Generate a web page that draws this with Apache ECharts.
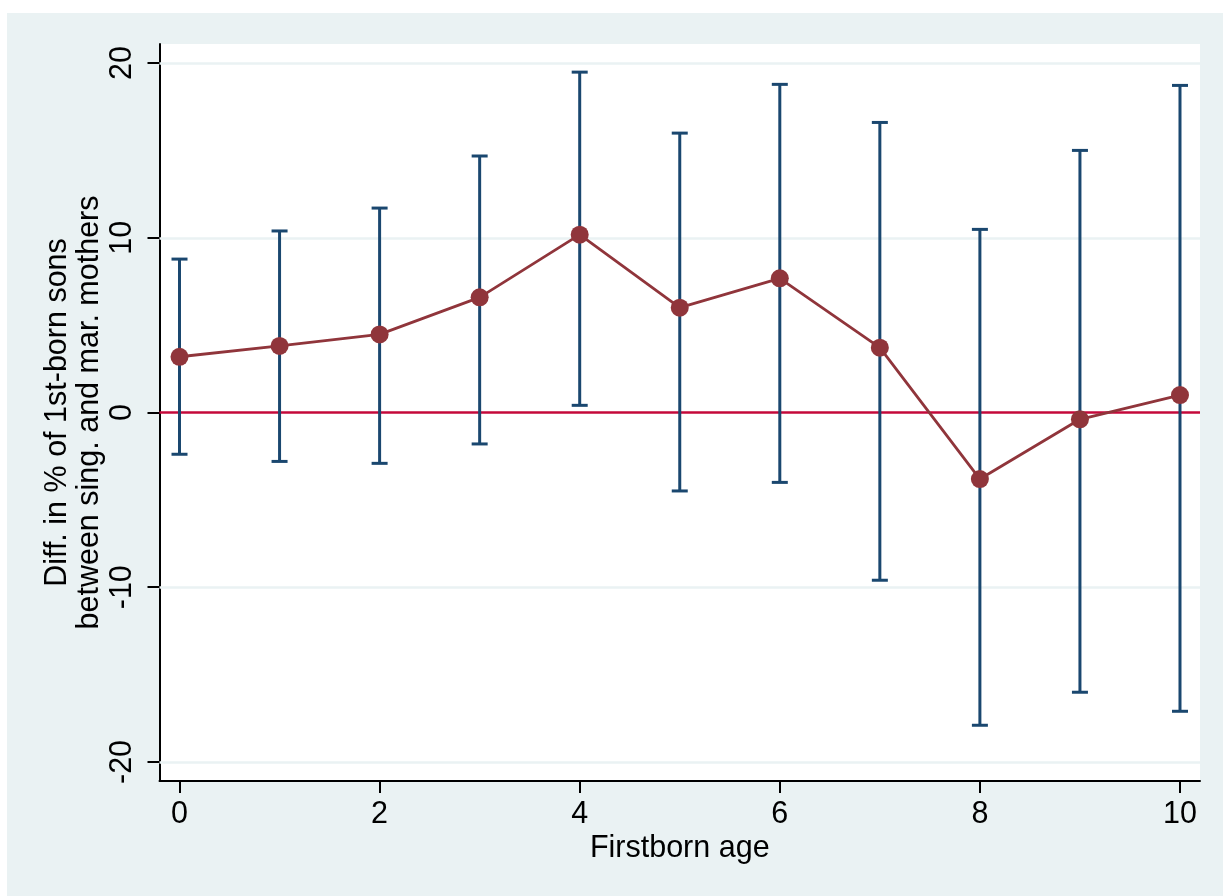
<!DOCTYPE html>
<html>
<head>
<meta charset="utf-8">
<script src="https://cdn.jsdelivr.net/npm/echarts@6/dist/echarts.min.js"></script>
<style>
  html, body { margin: 0; padding: 0; background: #ffffff; }
  #chart { width: 1223px; height: 896px; }
</style>
</head>
<body>
<div id="chart"></div>
<script>
// ---- data ----
const ages = [0, 1, 2, 3, 4, 5, 6, 7, 8, 9, 10];
const diffValues = [3.19, 3.81, 4.47, 6.59, 10.18, 6.0, 7.68, 3.71, -3.81, -0.39, 1.0];
const ciLower = [-2.39, -2.80, -2.91, -1.80, 0.41, -4.49, -4.0, -9.6, -17.9, -16.01, -17.1];
const ciUpper = [8.78, 10.39, 11.7, 14.68, 19.48, 15.99, 18.78, 16.6, 10.48, 15.0, 18.72];
const xTicks = [0, 2, 4, 6, 8, 10];
const yTicks = [-20, -10, 0, 10, 20];
const gridValues = [-20, -10, 10, 20];
const refLineValue = 0;
const xTitle = 'Firstborn age';
const yTitle = 'Diff. in % of 1st-born sons\nbetween sing. and mar. mothers';

// ---- styles ----
const FONT = '"Liberation Sans", Arial, Helvetica, sans-serif';
const BG = '#EAF2F3';
const NAVY = '#1A476F';
const MAROON = '#90353B';
const RED = '#C4083A';

const chart = echarts.init(document.getElementById('chart'), null, { renderer: 'canvas' });

const lineData = ages.map((a, i) => [a, diffValues[i]]);
const ciData = ages.map((a, i) => [a, ciLower[i], ciUpper[i]]);

const option = {
  backgroundColor: '#ffffff',
  animation: false,
  textStyle: { fontFamily: FONT },
  graphic: [{
    type: 'rect', z: -10, silent: true,
    shape: { x: 7, y: 13, width: 1223 - 7, height: 896 - 13 },
    style: { fill: BG }
  }],
  grid: {
    left: 159.5, right: 23, top: 44, bottom: 115,
    show: true, backgroundColor: '#ffffff', borderWidth: 0
  },
  xAxis: {
    type: 'value',
    min: -0.2, max: 10.2,
    name: xTitle,
    nameLocation: 'middle',
    nameGap: 52,
    nameMoveOverlap: false,
    nameTextStyle: { fontSize: 30.5, color: '#000', fontFamily: FONT },
    axisLine: { show: true, onZero: false, lineStyle: { color: '#000', width: 2 } },
    axisTick: { show: true, length: 12, lineStyle: { color: '#000', width: 2 }, customValues: xTicks },
    axisLabel: { fontSize: 30.5, color: '#000', margin: 18, customValues: xTicks, fontFamily: FONT },
    splitLine: { show: false }
  },
  yAxis: {
    type: 'value',
    min: -21.09, max: 21.09,
    name: yTitle,
    nameLocation: 'middle',
    nameRotate: 90,
    nameGap: 54,
    nameMoveOverlap: false,
    nameTextStyle: { fontSize: 30.5, color: '#000', lineHeight: 32, fontFamily: FONT },
    axisLine: { show: true, onZero: false, lineStyle: { color: '#000', width: 2 } },
    axisTick: { show: true, length: 12, lineStyle: { color: '#000', width: 2 }, customValues: yTicks },
    axisLabel: { fontSize: 30.5, color: '#000', margin: 21, rotate: 90, customValues: yTicks, fontFamily: FONT },
    splitLine: { show: false }
  },
  series: [
    {
      type: 'line', data: [], z: 1, silent: true,
      markLine: {
        z: 1, silent: true, symbol: 'none', label: { show: false },
        lineStyle: { color: BG, width: 2.5, type: 'solid' },
        data: gridValues.map(v => ({ yAxis: v }))
      }
    },
    {
      type: 'line', data: [], z: 2, silent: true,
      markLine: {
        z: 2, silent: true, symbol: 'none', label: { show: false },
        lineStyle: { color: RED, width: 2.6, type: 'solid' },
        data: [{ yAxis: refLineValue }]
      }
    },
    {
      type: 'custom', z: 3, silent: true,
      data: ciData,
      encode: { x: 0, y: [1, 2] },
      renderItem: function (params, api) {
        const x = api.value(0), lo = api.value(1), hi = api.value(2);
        const pHi = api.coord([x, hi]);
        const pLo = api.coord([x, lo]);
        const hw = 8;
        const st = { stroke: NAVY, lineWidth: 3 };
        return {
          type: 'group',
          children: [
            { type: 'line', shape: { x1: pHi[0], y1: pHi[1], x2: pLo[0], y2: pLo[1] }, style: st },
            { type: 'line', shape: { x1: pHi[0] - hw, y1: pHi[1], x2: pHi[0] + hw, y2: pHi[1] }, style: st },
            { type: 'line', shape: { x1: pLo[0] - hw, y1: pLo[1], x2: pLo[0] + hw, y2: pLo[1] }, style: st }
          ]
        };
      }
    },
    {
      type: 'line', z: 4, silent: true,
      data: lineData,
      symbol: 'circle', symbolSize: 18,
      lineStyle: { color: MAROON, width: 2.8 },
      itemStyle: { color: MAROON, borderWidth: 0 }
    }
  ]
};

chart.setOption(option);
</script>
</body>
</html>
